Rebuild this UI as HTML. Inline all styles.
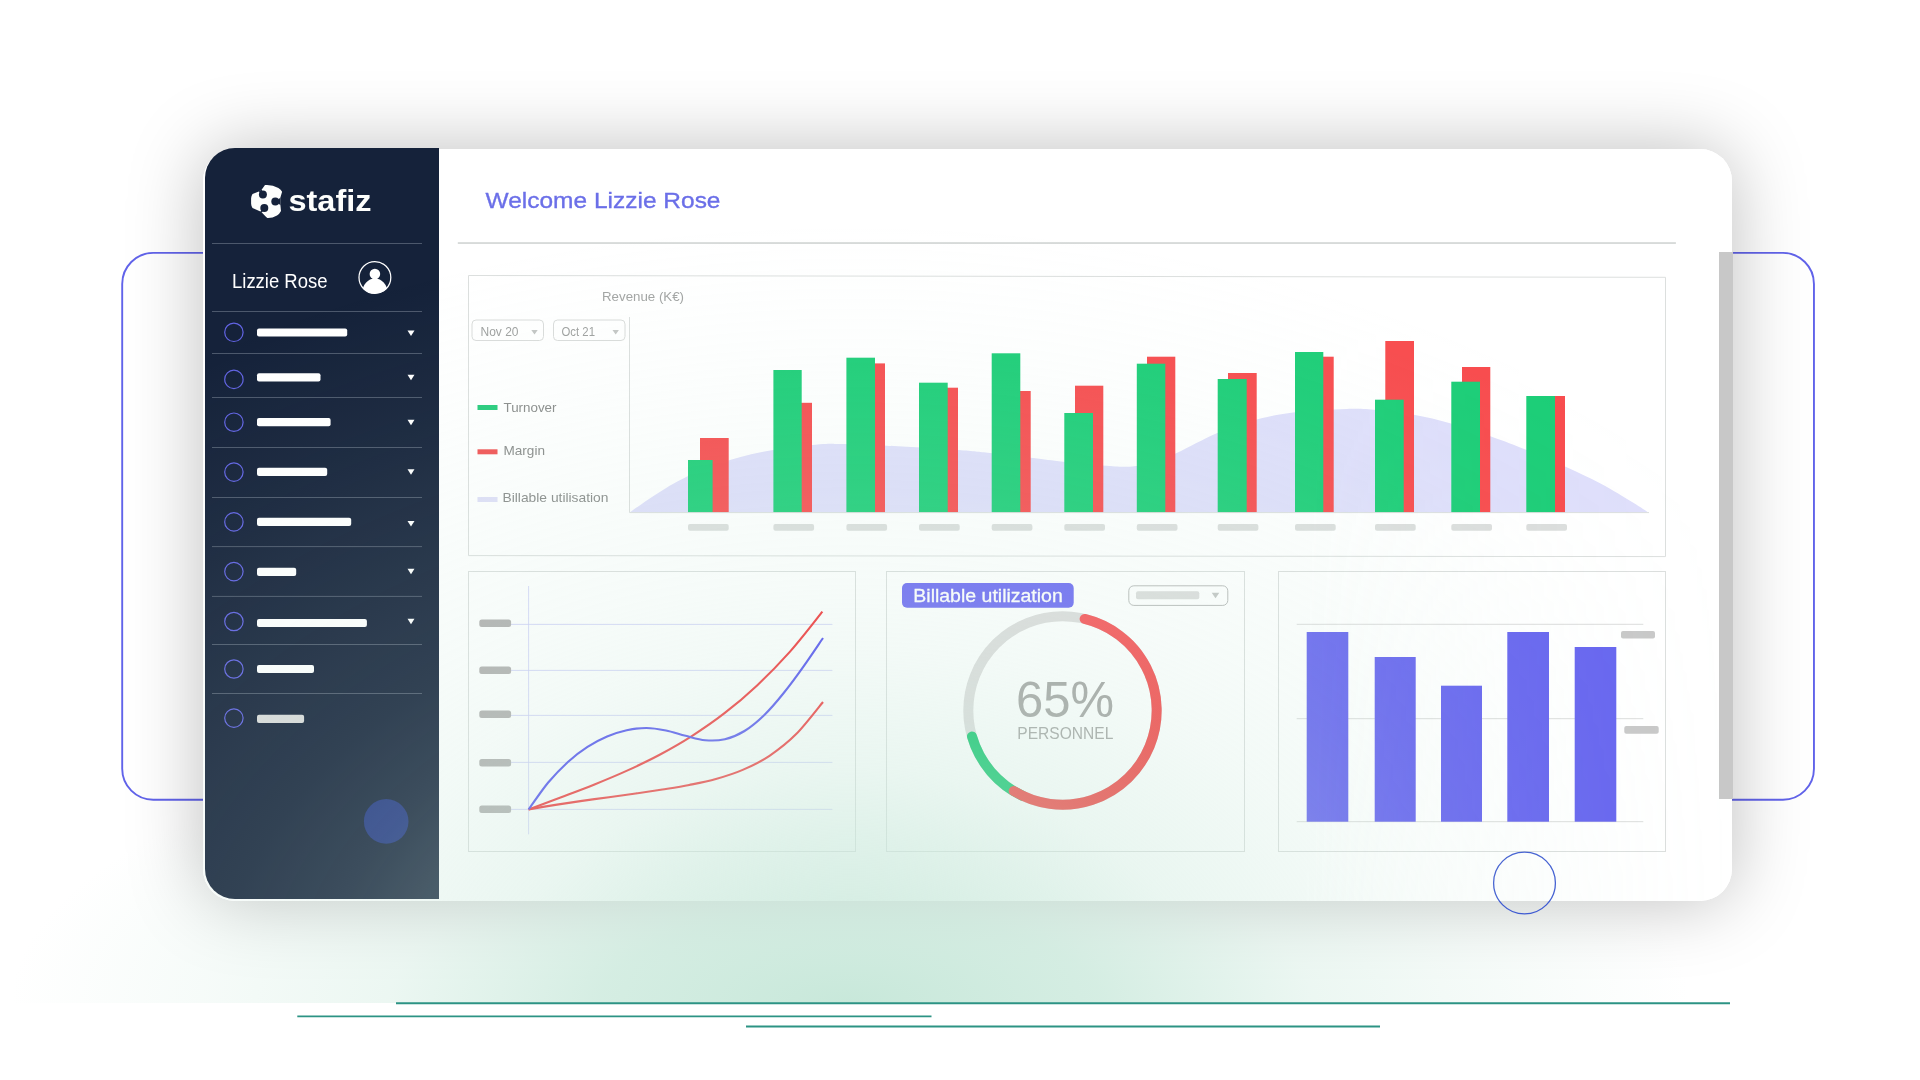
<!DOCTYPE html>
<html lang="en">
<head>
<meta charset="utf-8">
<title>Stafiz dashboard</title>
<style>
html,body{margin:0;padding:0;background:#fff;}
body{width:1920px;height:1080px;position:relative;overflow:hidden;font-family:"Liberation Sans",sans-serif;}
.abs{position:absolute;}
#stage{left:0;top:0;width:1920px;height:1003px;overflow:hidden;}

#device{left:203.3px;top:149px;width:1528.7px;height:751.7px;border-radius:32px;background:#fff;
  box-shadow:0 0 75px rgba(0,0,0,.26);}
#screen{left:203.3px;top:149px;width:1528.7px;height:751.7px;border-radius:32px;overflow:hidden;background:#fff;}

#side{left:205px;top:147.5px;width:233.5px;height:751.5px;border-radius:30px 0 0 30px;background:#15223a;}
#ovl{left:203.3px;top:147.5px;width:1529.7px;height:753.2px;border-radius:32px;pointer-events:none;
  -webkit-mask-image:linear-gradient(90deg,#000 0%,#000 72%,transparent 100%);mask-image:linear-gradient(90deg,#000 0%,#000 72%,transparent 100%);
  background:radial-gradient(ellipse 1170px 780px at 646.7px 855.5px, rgba(200,232,218,0.990) 0.0%, rgba(200,232,218,0.730) 12.8%, rgba(200,232,218,0.565) 21.8%, rgba(200,232,218,0.390) 30.0%, rgba(200,232,218,0.320) 36.0%, rgba(200,232,218,0.225) 45.0%, rgba(200,232,218,0.165) 54.0%, rgba(200,232,218,0.118) 66.7%, rgba(200,232,218,0.083) 75.6%, rgba(200,232,218,0.047) 84.6%, rgba(200,232,218,0.000) 100.0%);}
#glow{left:0;top:0;width:1920px;height:1003px;
  background:radial-gradient(ellipse 840px 300px at 850px 1003px, rgba(200,232,218,1) 0%, rgba(200,232,218,.76) 30%, rgba(200,232,218,.35) 55%, rgba(200,232,218,.15) 79%, rgba(200,232,218,.06) 91%, rgba(200,232,218,0) 100%);}

#scroll{left:1718.5px;top:252px;width:14.5px;height:547px;background:#c8c8c8;}
svg text{font-family:"Liberation Sans",sans-serif;}
</style>
</head>
<body>
<div id="stage" class="abs">
  <svg class="abs" style="left:0;top:0" width="1920" height="1003" viewBox="0 0 1920 1003"><rect x="122.2" y="252.9" width="1691.75" height="546.8" rx="31" fill="none" stroke="#6163ea" stroke-width="1.9"/></svg>
  <div id="device" class="abs"></div>
  <div id="glow" class="abs"></div>
</div>
<svg class="abs" style="left:0;top:0" width="1920" height="1080" viewBox="0 0 1920 1080"><g stroke="#2c9384"><line x1="396" x2="1730" y1="1003.2" y2="1003.2" stroke-width="2"/><line x1="297.3" x2="931.5" y1="1016.3" y2="1016.3" stroke-width="1.8"/><line x1="746" x2="1380" y1="1026.5" y2="1026.5" stroke-width="1.8"/></g></svg>
<div id="screen" class="abs"></div>
<div id="side" class="abs"></div>
<div id="scroll" class="abs"></div>

<svg class="abs" style="left:0;top:0;will-change:transform" width="1920" height="1080" viewBox="0 0 1920 1080">
<defs>
  <linearGradient id="redg" x1="0" y1="0" x2="0" y2="1">
    <stop offset="0" stop-color="#f95256"/><stop offset="1" stop-color="#f23a39"/>
  </linearGradient>
</defs>

<!-- logo -->
<g id="logo" fill="#fdfefc">
  <path d="M265,185 Q272.2,184.4 278.4,188 Q281,189.7 282.1,191.8 L280.4,197.6 L280.4,205 L281,211 Q279.6,213.9 277,215.4 Q272,218.2 267.3,217.9 L265.9,216.8 L261.8,212.6 L260.4,211.4 L252.5,208 Q251.2,206 251.1,203.8 L251.1,198.2 Q251.3,195.8 252.5,194 L258.8,191.6 L261.8,189.4 Z"/>
</g>
<g fill="#15223a">
  <circle cx="262.9" cy="194.6" r="4"/>
  <circle cx="275.3" cy="201.4" r="4"/>
  <circle cx="264.3" cy="208.1" r="4"/>
  <path d="M258.6,191.8 L261.6,189.2 L263,194 Z M280.5,197.4 L280.5,205.3 L276,201.4 Z M261.9,212.8 L260.2,211.5 L264,208.5 Z"/>
</g>
<text x="288.5" y="211.2" font-size="30" font-weight="bold" fill="#fdfefc" textLength="83" lengthAdjust="spacingAndGlyphs">stafiz</text>

<!-- sidebar user -->
<text x="232" y="287.5" font-size="20.5" fill="#fff" textLength="95.5" lengthAdjust="spacingAndGlyphs">Lizzie Rose</text>
<clipPath id="avc"><circle cx="374.9" cy="277.5" r="16.2"/></clipPath>
<circle cx="374.9" cy="277.5" r="15.9" fill="none" stroke="#fff" stroke-width="1.25"/>
<g clip-path="url(#avc)" fill="#fff">
  <circle cx="374.9" cy="274" r="5.3"/>
  <ellipse cx="374.9" cy="293" rx="12.7" ry="14.5"/>
</g>
<line x1="212" x2="422" y1="243.5" y2="243.5" stroke="#4c586c" stroke-width="1"/>
<line x1="212" x2="422" y1="311.5" y2="311.5" stroke="#4c586c" stroke-width="1"/>
<line x1="212" x2="422" y1="353.5" y2="353.5" stroke="#4c586c" stroke-width="1"/>
<line x1="212" x2="422" y1="397.5" y2="397.5" stroke="#4c586c" stroke-width="1"/>
<line x1="212" x2="422" y1="447.5" y2="447.5" stroke="#4c586c" stroke-width="1"/>
<line x1="212" x2="422" y1="497.5" y2="497.5" stroke="#4c586c" stroke-width="1"/>
<line x1="212" x2="422" y1="546.6" y2="546.6" stroke="#4c586c" stroke-width="1"/>
<line x1="212" x2="422" y1="596.4" y2="596.4" stroke="#4c586c" stroke-width="1"/>
<line x1="212" x2="422" y1="644.5" y2="644.5" stroke="#4c586c" stroke-width="1"/>
<line x1="212" x2="422" y1="693.5" y2="693.5" stroke="#4c586c" stroke-width="1"/>
<circle cx="233.9" cy="332.3" r="9.2" fill="none" stroke="#6264e4" stroke-width="1.2"/>
<rect x="257" y="328.4" width="90.2" height="8.2" rx="2" fill="#fff"/>
<path d="M407.5,330.5 h7 l-3.5,5.5 z" fill="#fff"/>
<circle cx="233.9" cy="379.4" r="9.2" fill="none" stroke="#6264e4" stroke-width="1.2"/>
<rect x="257" y="373.2" width="63.5" height="8.2" rx="2" fill="#fff"/>
<path d="M407.5,374.7 h7 l-3.5,5.5 z" fill="#fff"/>
<circle cx="233.9" cy="422.2" r="9.2" fill="none" stroke="#6264e4" stroke-width="1.2"/>
<rect x="257" y="418.1" width="73.6" height="8.2" rx="2" fill="#fff"/>
<path d="M407.5,419.7 h7 l-3.5,5.5 z" fill="#fff"/>
<circle cx="233.9" cy="472.1" r="9.2" fill="none" stroke="#6264e4" stroke-width="1.2"/>
<rect x="257" y="467.8" width="70.2" height="8.2" rx="2" fill="#fff"/>
<path d="M407.5,469.3 h7 l-3.5,5.5 z" fill="#fff"/>
<circle cx="233.9" cy="521.9" r="9.2" fill="none" stroke="#6264e4" stroke-width="1.2"/>
<rect x="257" y="517.8" width="94.2" height="8.2" rx="2" fill="#fff"/>
<path d="M407.5,520.9 h7 l-3.5,5.5 z" fill="#fff"/>
<circle cx="233.9" cy="571.6" r="9.2" fill="none" stroke="#6264e4" stroke-width="1.2"/>
<rect x="257" y="567.8" width="39.2" height="8.2" rx="2" fill="#fff"/>
<path d="M407.5,568.8 h7 l-3.5,5.5 z" fill="#fff"/>
<circle cx="233.9" cy="621.5" r="9.2" fill="none" stroke="#6264e4" stroke-width="1.2"/>
<rect x="257" y="618.9" width="109.9" height="8.2" rx="2" fill="#fff"/>
<path d="M407.5,618.7 h7 l-3.5,5.5 z" fill="#fff"/>
<circle cx="233.9" cy="669.0" r="9.2" fill="none" stroke="#6264e4" stroke-width="1.2"/>
<rect x="257" y="664.9" width="57.0" height="8.2" rx="2" fill="#fff"/>
<circle cx="233.9" cy="718.1" r="9.2" fill="none" stroke="#6264e4" stroke-width="1.2"/>
<rect x="257" y="714.7" width="47.1" height="8.2" rx="2" fill="#dadada"/>

<circle cx="386.2" cy="821.4" r="22.3" fill="#203480"/>

<!-- header -->
<text x="485.5" y="208" font-size="22.5" fill="#6b6fe8" stroke="#6b6fe8" stroke-width=".35" textLength="235" lengthAdjust="spacingAndGlyphs">Welcome Lizzie Rose</text>
<rect x="457.8" y="242.2" width="1218.1" height="1.7" fill="#d3d6d5"/>

<!-- panels -->
<g fill="none" stroke="#dcdfde" stroke-width="1">
  <path d="M468.5,275.5 L1665.5,277.3 L1665.5,556.6 L468.5,555.6 Z"/>
  <rect x="468.5" y="571.5" width="387" height="280"/>
  <rect x="886.5" y="571.5" width="358" height="280"/>
  <rect x="1278.5" y="571.5" width="387" height="280"/>
</g>

<!-- top chart -->
<text x="602" y="300.5" font-size="13.5" fill="#a3a5a4" textLength="82" lengthAdjust="spacingAndGlyphs">Revenue (K€)</text>
<g fill="#fff" stroke="#dadcdb" stroke-width="1">
  <rect x="472" y="320" width="71.5" height="20.5" rx="4"/>
  <rect x="553.5" y="320" width="71.5" height="20.5" rx="4"/>
</g>
<text x="480.5" y="336" font-size="12" fill="#9fa1a0" textLength="38" lengthAdjust="spacingAndGlyphs">Nov 20</text>
<text x="561.5" y="336" font-size="12" fill="#9fa1a0" textLength="33.5" lengthAdjust="spacingAndGlyphs">Oct 21</text>
<path d="M531.3,330 h6.4 l-3.2,4.6 z M612.5,330 h6.4 l-3.2,4.6 z" fill="#c4c6c5"/>
<g fill="#fff" opacity=".75">
  <rect x="499" y="396" width="114" height="21" rx="4"/>
  <rect x="499" y="440" width="114" height="20" rx="4"/>
  <rect x="499" y="487.5" width="112" height="18.5" rx="4"/>
</g>
<rect x="477.5" y="405" width="20" height="5" fill="#27cc7c"/>
<rect x="477.5" y="449.3" width="20" height="5" fill="#f25455"/>
<rect x="477.5" y="497" width="20" height="5" fill="#dfdff8"/>
<text x="503.5" y="412" font-size="13" fill="#8a8c8b" textLength="53" lengthAdjust="spacingAndGlyphs">Turnover</text>
<text x="503.5" y="455" font-size="13" fill="#8a8c8b" textLength="41.5" lengthAdjust="spacingAndGlyphs">Margin</text>
<text x="502.5" y="502" font-size="13" fill="#8a8c8b" textLength="106" lengthAdjust="spacingAndGlyphs">Billable utilisation</text>
<path d="M629.5,512.6 C633.8,509.7 645.5,501.0 655.0,495.0 C664.5,489.0 674.2,482.5 686.7,476.7 C699.2,470.9 715.6,464.4 730.0,460.0 C744.4,455.6 758.0,452.6 773.0,450.0 C788.0,447.4 808.8,445.3 820.0,444.3 C831.2,443.3 828.9,443.8 840.0,444.0 C851.1,444.2 867.0,444.7 886.7,445.7 C906.4,446.7 940.8,448.8 958.0,450.0 C975.2,451.2 977.5,451.7 990.0,453.0 C1002.5,454.3 1020.8,456.6 1033.0,458.0 C1045.2,459.4 1050.7,460.4 1063.0,461.7 C1075.3,463.0 1095.5,464.9 1106.7,465.7 C1117.9,466.5 1122.8,467.1 1130.0,466.7 C1137.2,466.2 1142.2,465.3 1150.0,463.0 C1157.8,460.7 1165.6,457.9 1176.7,453.0 C1187.8,448.1 1203.4,438.9 1216.7,433.3 C1230.0,427.7 1243.7,423.1 1256.7,419.6 C1269.8,416.1 1280.0,414.1 1295.0,412.3 C1310.0,410.5 1333.1,409.4 1346.7,409.0 C1360.3,408.6 1365.3,409.0 1376.7,410.0 C1388.1,411.0 1402.8,412.8 1415.0,415.0 C1427.2,417.2 1437.2,419.7 1450.0,423.3 C1462.8,426.9 1478.9,432.2 1491.7,436.7 C1504.5,441.1 1514.2,444.9 1526.7,450.0 C1539.2,455.1 1554.5,461.8 1566.7,467.3 C1578.9,472.9 1588.9,477.4 1600.0,483.3 C1611.1,489.2 1625.2,497.8 1633.3,502.7 C1641.4,507.6 1646.0,511.0 1648.5,512.6 Z" fill="#dfdffb"/>
<rect x="700.0" y="438.0" width="28.7" height="74.6" fill="#f84d4f"/>
<rect x="688.0" y="460.0" width="24.6" height="52.6" fill="#1dce78"/>
<rect x="688.0" y="524" width="40.7" height="6.8" rx="2" fill="#dcdedd"/>
<rect x="790.0" y="402.8" width="22.0" height="109.8" fill="#f84d4f"/>
<rect x="773.4" y="370.0" width="28.3" height="142.6" fill="#1dce78"/>
<rect x="773.4" y="524" width="40.7" height="6.8" rx="2" fill="#dcdedd"/>
<rect x="865.0" y="363.4" width="20.0" height="149.2" fill="#f84d4f"/>
<rect x="846.4" y="357.7" width="28.6" height="154.9" fill="#1dce78"/>
<rect x="846.4" y="524" width="40.7" height="6.8" rx="2" fill="#dcdedd"/>
<rect x="938.0" y="387.7" width="20.0" height="124.9" fill="#f84d4f"/>
<rect x="919.0" y="382.7" width="28.7" height="129.9" fill="#1dce78"/>
<rect x="919.0" y="524" width="40.7" height="6.8" rx="2" fill="#dcdedd"/>
<rect x="1010.0" y="391.0" width="20.7" height="121.6" fill="#f84d4f"/>
<rect x="991.7" y="353.3" width="28.6" height="159.3" fill="#1dce78"/>
<rect x="991.7" y="524" width="40.7" height="6.8" rx="2" fill="#dcdedd"/>
<rect x="1075.0" y="385.7" width="28.3" height="126.9" fill="#f84d4f"/>
<rect x="1064.3" y="413.0" width="28.7" height="99.6" fill="#1dce78"/>
<rect x="1064.3" y="524" width="40.7" height="6.8" rx="2" fill="#dcdedd"/>
<rect x="1147.0" y="356.7" width="28.3" height="155.9" fill="#f84d4f"/>
<rect x="1136.8" y="363.7" width="28.5" height="148.9" fill="#1dce78"/>
<rect x="1136.8" y="524" width="40.7" height="6.8" rx="2" fill="#dcdedd"/>
<rect x="1228.0" y="373.0" width="28.7" height="139.6" fill="#f84d4f"/>
<rect x="1217.7" y="379.0" width="29.0" height="133.6" fill="#1dce78"/>
<rect x="1217.7" y="524" width="40.7" height="6.8" rx="2" fill="#dcdedd"/>
<rect x="1313.0" y="356.7" width="20.7" height="155.9" fill="#f84d4f"/>
<rect x="1295.0" y="352.0" width="28.3" height="160.6" fill="#1dce78"/>
<rect x="1295.0" y="524" width="40.7" height="6.8" rx="2" fill="#dcdedd"/>
<rect x="1385.3" y="341.0" width="28.7" height="171.6" fill="#f84d4f"/>
<rect x="1375.0" y="399.7" width="28.7" height="112.9" fill="#1dce78"/>
<rect x="1375.0" y="524" width="40.7" height="6.8" rx="2" fill="#dcdedd"/>
<rect x="1462.0" y="367.0" width="28.3" height="145.6" fill="#f84d4f"/>
<rect x="1451.3" y="381.7" width="28.7" height="130.9" fill="#1dce78"/>
<rect x="1451.3" y="524" width="40.7" height="6.8" rx="2" fill="#dcdedd"/>
<rect x="1545.0" y="396.0" width="20.0" height="116.6" fill="#f84d4f"/>
<rect x="1526.3" y="396.0" width="28.7" height="116.6" fill="#1dce78"/>
<rect x="1526.3" y="524" width="40.7" height="6.8" rx="2" fill="#dcdedd"/>

<path d="M629.5,317 V512.6 H1649" fill="none" stroke="#dcdfde" stroke-width="1"/>

<!-- line chart -->
<line x1="511" x2="832.4" y1="624.4" y2="624.4" stroke="#cdcef6" stroke-width=".8"/>
<line x1="511" x2="832.4" y1="670.4" y2="670.4" stroke="#cdcef6" stroke-width=".8"/>
<line x1="511" x2="832.4" y1="715.4" y2="715.4" stroke="#cdcef6" stroke-width=".8"/>
<line x1="511" x2="832.4" y1="762.4" y2="762.4" stroke="#cdcef6" stroke-width=".8"/>
<line x1="511" x2="832.4" y1="809.4" y2="809.4" stroke="#cdcef6" stroke-width=".8"/>
<line x1="528.6" x2="528.6" y1="586" y2="834.3" stroke="#cdcef6" stroke-width=".8"/>
<rect x="479.3" y="619.4" width="31.8" height="7.6" rx="2.5" fill="#b2b0b0"/>
<rect x="479.3" y="666.5" width="31.8" height="7.6" rx="2.5" fill="#b2b0b0"/>
<rect x="479.3" y="710.4" width="31.8" height="7.6" rx="2.5" fill="#b2b0b0"/>
<rect x="479.3" y="758.9" width="31.8" height="7.6" rx="2.5" fill="#b2b0b0"/>
<rect x="479.3" y="805.5" width="31.8" height="7.6" rx="2.5" fill="#b2b0b0"/>
<path d="M528.6,809.4 C534.0,807.4 550.3,801.3 561.2,797.2 C572.1,793.1 583.0,789.1 593.9,784.7 C604.8,780.3 615.6,775.9 626.5,770.9 C637.4,765.9 648.3,760.8 659.2,755.0 C670.1,749.2 680.9,743.1 691.8,736.1 C702.7,729.1 713.6,721.7 724.5,713.2 C735.4,704.8 746.2,695.6 757.1,685.4 C768.0,675.2 778.9,664.2 789.8,651.9 C800.7,639.6 817.0,618.3 822.4,611.6" fill="none" stroke="#f43134" stroke-width="2.1"/>
<path d="M528.6,809.4 C533.1,808.6 546.5,806.3 555.4,804.9 C564.3,803.5 573.2,802.2 582.1,800.9 C591.0,799.6 600.0,798.4 608.9,797.2 C617.8,796.0 626.8,794.8 635.7,793.5 C644.6,792.2 653.5,790.9 662.4,789.5 C671.3,788.1 680.3,786.8 689.2,785.0 C698.1,783.2 707.0,781.5 715.9,779.0 C724.8,776.5 733.8,773.8 742.7,769.9 C751.6,766.0 760.6,761.8 769.5,755.8 C778.4,749.8 787.3,743.1 796.2,734.1 C805.1,725.1 818.5,707.4 823.0,702.0" fill="none" stroke="#f43134" stroke-width="2.1"/>
<path d="M528.6,809.4 C531.9,804.9 541.7,790.4 548.2,782.5 C554.8,774.6 561.4,767.9 567.9,761.9 C574.4,755.9 581.0,751.0 587.5,746.8 C594.0,742.6 600.6,739.3 607.1,736.5 C613.6,733.7 620.2,731.6 626.7,730.2 C633.2,728.8 639.9,728.0 646.4,728.0 C652.9,728.0 659.5,729.2 666.0,730.5 C672.5,731.8 679.1,734.2 685.6,735.8 C692.1,737.4 698.7,739.6 705.2,740.2 C711.8,740.8 718.4,740.7 724.9,739.2 C731.4,737.7 738.0,735.0 744.5,731.0 C751.0,727.0 757.6,721.5 764.1,715.2 C770.6,708.9 777.2,701.1 783.7,693.0 C790.2,684.9 796.9,675.8 803.4,666.6 C809.9,657.4 819.7,642.8 823.0,638.0" fill="none" stroke="#504df1" stroke-width="2.1"/>


<!-- donut -->
<rect x="902" y="583" width="171.7" height="24.7" rx="5" fill="#6e6bf3"/>
<text x="913.3" y="602.3" font-size="18" fill="#fff" stroke="#fff" stroke-width=".3" textLength="149.5" lengthAdjust="spacingAndGlyphs">Billable utilization</text>
<rect x="1128.8" y="585.8" width="99" height="19.6" rx="5" fill="#fff" stroke="#b9bbba" stroke-width="1"/>
<rect x="1136" y="591.3" width="63.3" height="8" rx="2" fill="#dcdddc"/>
<path d="M1211.7,592.7 h7.6 l-3.8,5.6 z" fill="#c3c5c4"/>
<circle cx="1062.5" cy="710.5" r="94.2" fill="none" stroke="#dddcdc" stroke-width="10"/>
<path d="M1022.69,795.87 A94.20,94.20 0 0 1 971.95,736.47" fill="none" stroke="#08c468" stroke-width="10" stroke-linecap="round"/>
<path d="M1084.65,618.94 A94.20,94.20 0 1 1 1013.70,791.08" fill="none" stroke="url(#redg)" stroke-width="10" stroke-linecap="round"/>

<text x="1016" y="717.3" font-size="50" fill="#a4a3a2" textLength="98" lengthAdjust="spacingAndGlyphs">65%</text>
<text x="1017.3" y="739" font-size="17" fill="#a4a3a2" textLength="96" lengthAdjust="spacingAndGlyphs">PERSONNEL</text>

<!-- purple bars -->
<line x1="1296.7" x2="1643.3" y1="624.3" y2="624.3" stroke="#dcdddc" stroke-width="1"/>
<line x1="1296.7" x2="1643.3" y1="718.7" y2="718.7" stroke="#dcdddc" stroke-width="1"/>
<line x1="1296.7" x2="1643.3" y1="821.7" y2="821.7" stroke="#dcdddc" stroke-width="1"/>
<rect x="1306.7" y="632.0" width="41.6" height="189.7" fill="#6866f0"/>
<rect x="1374.7" y="657.0" width="41.0" height="164.7" fill="#6866f0"/>
<rect x="1441.0" y="685.7" width="41.0" height="136.0" fill="#6866f0"/>
<rect x="1507.3" y="632.0" width="41.7" height="189.7" fill="#6866f0"/>
<rect x="1574.7" y="647.0" width="41.6" height="174.7" fill="#6866f0"/>
<rect x="1621" y="631" width="34" height="7.4" rx="2" fill="#c9c9c9"/>
<rect x="1624.3" y="726" width="34.4" height="7.7" rx="2" fill="#c9c9c9"/>


<!-- home button -->
<circle cx="1524.5" cy="883" r="30.9" fill="none" stroke="#3f5bd2" stroke-width="1.3"/>
</svg>
<div id="ovl" class="abs"></div>
</body>
</html>
